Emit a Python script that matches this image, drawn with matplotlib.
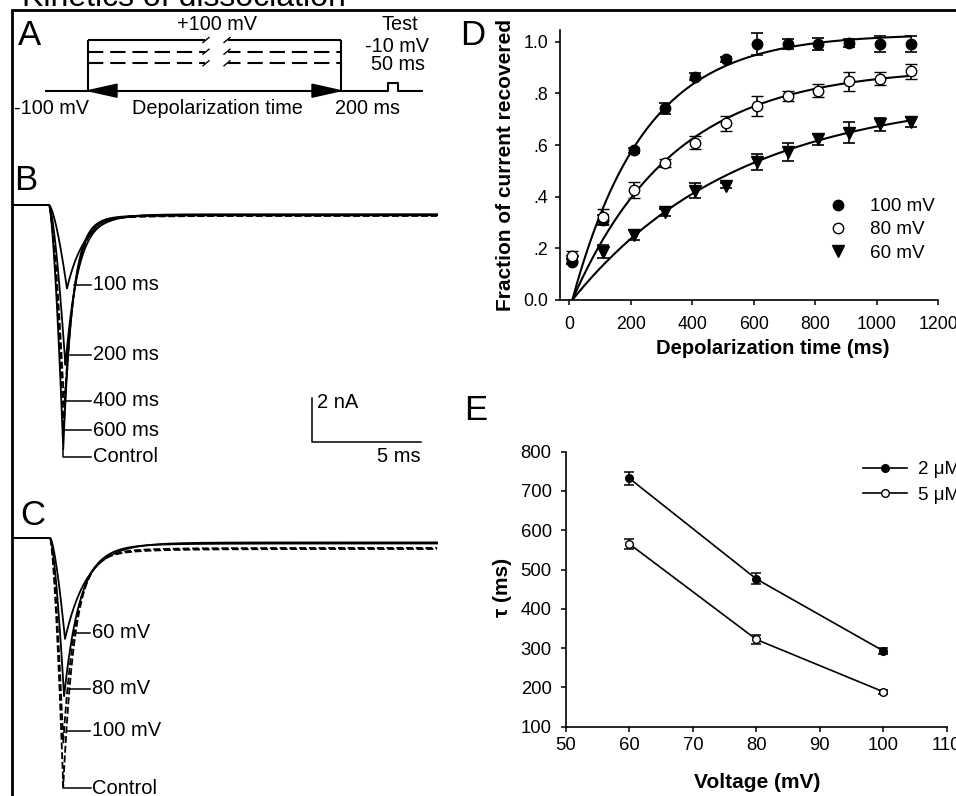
import numpy as np
import matplotlib
matplotlib.use('Agg')
import matplotlib.pyplot as plt
from matplotlib.lines import Line2D
from matplotlib.patches import Polygon

plt.rcParams['font.family'] = ['Liberation Sans', 'DejaVu Sans']
plt.rcParams['lines.scale_dashes'] = False

W, H = 956, 796

# ---------------- DATA ----------------
# Panel B: test-pulse currents after various depolarization times
b_labels = ['100 ms', '200 ms', '400 ms', '600 ms', 'Control']
b_peak_nA = [3.8, 7.3, 9.2, 10.2, 11.1]
b_steady_nA = [0.42, 0.45, 0.47, 0.50, 0.45]
b_peak_ms = [2.52, 2.45, 2.40, 2.37, 2.35]
b_tau_ms = [0.80, 0.58, 0.48, 0.45, 0.43]
b_dashed = [False, False, True, True, False]
b_label_y = [285, 355, 401, 430, 457]

# Panel C: test-pulse currents after depolarization to various voltages
c_labels = ['60 mV', '80 mV', '100 mV', 'Control']
c_peak_nA = [4.6, 7.2, 9.3, 11.3]
c_steady_nA = [0.20, 0.25, 0.45, 0.50]
c_peak_ms = [2.43, 2.39, 2.35, 2.35]
c_tau_ms = [1.0, 0.72, 0.58, 0.52]
c_dashed = [False, False, True, True]
c_label_y = [633, 689, 731, 788]

# Panel D: fraction of current recovered
d_time = [10, 110, 210, 310, 410, 510, 610, 710, 810, 910, 1010, 1110]
d_100 = [0.148, 0.31, 0.58, 0.742, 0.865, 0.932, 0.991, 0.991, 0.991, 0.994, 0.991, 0.991]
d_100_err = [0.01, 0.02, 0.01, 0.022, 0.015, 0.01, 0.042, 0.02, 0.025, 0.015, 0.03, 0.03]
d_80 = [0.17, 0.323, 0.426, 0.529, 0.609, 0.684, 0.751, 0.79, 0.81, 0.846, 0.857, 0.885]
d_80_err = [0.02, 0.03, 0.03, 0.015, 0.025, 0.03, 0.04, 0.02, 0.025, 0.035, 0.025, 0.03]
d_60 = [0.15, 0.187, 0.252, 0.339, 0.423, 0.443, 0.535, 0.574, 0.622, 0.648, 0.681, 0.69]
d_60_err = [0.01, 0.025, 0.02, 0.015, 0.03, 0.01, 0.03, 0.035, 0.02, 0.04, 0.025, 0.02]
# single-exponential fit parameters: (amplitude, tau ms)
fit_100 = (1.03, 235.0)
fit_80 = (0.90, 330.0)
fit_60 = (0.80, 541.0)
fit_start_ms = 10
fit_end_ms = 1110
d_legend = ['100 mV', '80 mV', '60 mV']
d_xticks = [0, 200, 400, 600, 800, 1000, 1200]
d_yticks = [0.0, 0.2, 0.4, 0.6, 0.8, 1.0]
d_yticklabels = ['0.0', '.2', '.4', '.6', '.8', '1.0']

# Panel E: time constant vs voltage
e_voltage = [60, 80, 100]
e_tau_2uM = [732, 476, 293]
e_err_2uM = [17, 14, 8]
e_tau_5uM = [565, 322, 189]
e_err_5uM = [13, 12, 5]
e_legend = ['2 \u03bcM', '5 \u03bcM']
e_xticks = [50, 60, 70, 80, 90, 100, 110]
e_yticks = [100, 200, 300, 400, 500, 600, 700, 800]

# ---------------- FIGURE ----------------
fig = plt.figure(figsize=(W / 100, H / 100), dpi=100)


def ax_px(l, t, r, b, **kw):
    return fig.add_axes([l / W, 1 - b / H, (r - l) / W, (b - t) / H], **kw)


def to_axes(ax, px, py):
    inv = ax.transAxes.inverted()
    return inv.transform(fig.transFigure.transform((px / W, 1 - py / H)))


def trace(t, t0, tpk, peak, ss, tau_f, tau_s=1.6, frac_s=0.03):
    y = np.zeros_like(t)
    m = (t >= t0) & (t < tpk)
    y[m] = -peak * ((t[m] - t0) / (tpk - t0)) ** 1.5
    m = t >= tpk
    dt = t[m] - tpk
    y[m] = -ss - (peak - ss) * ((1 - frac_s) * np.exp(-dt / tau_f) + frac_s * np.exp(-dt / tau_s))
    return y


t = np.linspace(0, 19.5, 4000)

# ---- Panel B ----
axB = ax_px(12, 185, 448, 470)
axB.set_xlim(0, 20)
axB.set_ylim(-(470 - 205) / 22, (205 - 185) / 22)
axB.axis('off')
for pk, ss, tp, tau, dash in zip(b_peak_nA, b_steady_nA, b_peak_ms, b_tau_ms, b_dashed):
    axB.plot(t, trace(t, 1.70, tp, pk, ss, tau), color='black', lw=1.3,
             ls=(0, (5, 2)) if dash else '-')
# scale bar: 2 nA, 5 ms
sx, sy = (312 - 12) / 21.8, -(442 - 205) / 22
axB.plot([sx, sx, sx + 5], [sy + 2, sy, sy], color='black', lw=1.1, clip_on=False)

# ---- Panel C ----
axC = ax_px(12, 515, 448, 796)
axC.set_xlim(0, 20)
axC.set_ylim(-(796 - 538) / 22, (538 - 515) / 22)
axC.axis('off')
for pk, ss, tp, tau, dash in zip(c_peak_nA, c_steady_nA, c_peak_ms, c_tau_ms, c_dashed):
    axC.plot(t, trace(t, 1.75, tp, pk, ss, tau, tau_s=2.2, frac_s=0.04), color='black', lw=1.3,
             ls=(0, (5, 2)) if dash else '-')

# ---- Panel D ----
axD = ax_px(560, 300 - 1.045 * 258.3, 938.3, 300)
axD.set_xlim(-30, 1200)
axD.set_ylim(0, 1.045)
tf = np.linspace(fit_start_ms, fit_end_ms, 400)
for (A, tau) in (fit_100, fit_80, fit_60):
    axD.plot(tf, A * (1 - np.exp(-(tf - fit_start_ms) / tau)), color='black', lw=1.5, zorder=2)
ekw = dict(ecolor='black', elinewidth=1.2, capsize=4.5, capthick=1.2, ls='none', zorder=3)
axD.errorbar(d_time, d_60, yerr=d_60_err, fmt='v', ms=8, mfc='black', mec='black', **ekw)
axD.errorbar(d_time, d_100, yerr=d_100_err, fmt='o', ms=7.5, mfc='black', mec='black', **ekw)
axD.errorbar(d_time, d_80, yerr=d_80_err, fmt='o', ms=7.5, mfc='white', mec='black', mew=1.0, **ekw)
axD.set_xticks(d_xticks)
axD.set_yticks(d_yticks)
axD.set_yticklabels(d_yticklabels)
for s in ('top', 'right'):
    axD.spines[s].set_visible(False)
for s in ('left', 'bottom'):
    axD.spines[s].set_linewidth(1.2)
axD.tick_params(axis='both', direction='out', length=3.6, width=1.1, labelsize=12.8)
axD.tick_params(axis='x', pad=8)
axD.tick_params(axis='y', pad=4.8)
axD.set_xlabel('Depolarization time (ms)', fontsize=14.5, fontweight='bold')
axD.set_ylabel('Fraction of current recovered', fontsize=15, fontweight='bold')
axD.xaxis.set_label_coords(*to_axes(axD, 773, 348))
axD.xaxis.label.set_va('center')
axD.yaxis.set_label_coords(*to_axes(axD, 505, 165))
axD.yaxis.label.set_va('center')
hD = [Line2D([], [], ls='none', marker='o', ms=7.5, mfc='black', mec='black'),
      Line2D([], [], ls='none', marker='o', ms=7.5, mfc='white', mec='black'),
      Line2D([], [], ls='none', marker='v', ms=8, mfc='black', mec='black')]
axD.legend(hD, d_legend, loc='upper left', bbox_to_anchor=(828.5 / W, 1 - 198 / H),
           bbox_transform=fig.transFigure, frameon=False, fontsize=13.6, borderpad=0,
           borderaxespad=0, handlelength=1.0, handletextpad=1.2, labelspacing=0.32,
           numpoints=1)

# ---- Panel E ----
axE = ax_px(566, 451.7, 946.7, 726.7)
axE.set_xlim(50, 110)
axE.set_ylim(100, 800)
ekwE = dict(ecolor='black', elinewidth=1.1, capsize=3.6, capthick=1.1, color='black', lw=1.2)
axE.errorbar(e_voltage, e_tau_2uM, yerr=e_err_2uM, fmt='-o', ms=5.5, mfc='black', mec='black', **ekwE)
axE.errorbar(e_voltage, e_tau_5uM, yerr=e_err_5uM, fmt='-o', ms=5.5, mfc='white', mec='black', **ekwE)
axE.set_xticks(e_xticks)
axE.set_yticks(e_yticks)
for s in ('top', 'right'):
    axE.spines[s].set_visible(False)
for s in ('left', 'bottom'):
    axE.spines[s].set_linewidth(1.2)
axE.tick_params(axis='both', direction='out', length=3.6, width=1.1, labelsize=13.3)
axE.tick_params(axis='x', pad=3.6)
axE.tick_params(axis='y', pad=6.7)
axE.set_xlabel('Voltage (mV)', fontsize=15, fontweight='bold')
axE.set_ylabel('\u03c4 (ms)', fontsize=15, fontweight='bold')
axE.xaxis.set_label_coords(*to_axes(axE, 757, 783))
axE.xaxis.label.set_va('center')
axE.yaxis.set_label_coords(*to_axes(axE, 503, 587))
axE.yaxis.label.set_va('center')
hE = [Line2D([], [], color='black', lw=1.2, marker='o', ms=5.5, mfc='black', mec='black'),
      Line2D([], [], color='black', lw=1.2, marker='o', ms=5.5, mfc='white', mec='black')]
axE.legend(hE, e_legend, loc='upper left', bbox_to_anchor=(863 / W, 1 - 461 / H),
           bbox_transform=fig.transFigure, frameon=False, fontsize=13.5, borderpad=0,
           borderaxespad=0, handlelength=2.35, handletextpad=0.6, labelspacing=0.44,
           numpoints=1)

# ---- Overlay (pixel coordinates) ----
ov = fig.add_axes([0, 0, 1, 1], facecolor='none', zorder=10)
ov.set_xlim(0, W)
ov.set_ylim(H, 0)
ov.axis('off')
K = dict(color='black', lw=1.5, solid_capstyle='butt')

# frame
ov.plot([12.5, 12.5, W], [H, 9.5, 9.5], color='black', lw=2.0, solid_joinstyle='miter')
ov.text(22, 6, 'Kinetics of dissociation', fontsize=23, ha='left', va='baseline')

# panel letters
for lab, x, y in (('A', 18, 45), ('B', 14, 190), ('C', 20, 525), ('D', 460, 45), ('E', 464, 420)):
    ov.text(x, y, lab, fontsize=25, ha='left', va='baseline')

# Panel A protocol schematic
yb, yt, yd1, yd2 = 90.7, 40, 51.7, 63.3
xa, xb = 88, 341
ov.plot([45, xa, xa], [yb, yb, yt], **K)
ov.plot([xa, 205], [yt, yt], **K)
ov.plot([228, xb], [yt, yt], **K)
ov.plot([xb, xb, 388, 388, 398, 398, 423], [yt, yb, yb, 82.7, 82.7, yb, yb], **K)
for yy in (yd1, yd2):
    ov.plot([xa, 205], [yy, yy], color='black', lw=1.5, ls=(0, (11, 5)))
    ov.plot([228, xb], [yy, yy], color='black', lw=1.5, ls=(2, (11, 5)))
for yy in (yt, yd1, yd2):
    ov.plot([203, 209], [yy + 2.5, yy - 2.5], color='black', lw=1.0)
    ov.plot([224, 230], [yy + 2.5, yy - 2.5], color='black', lw=1.0)
ov.plot([xa, xb], [yb, yb], **K)
ov.add_patch(Polygon([[xa, yb], [117, yb - 6.5], [117, yb + 6.5]], closed=True, color='black'))
ov.add_patch(Polygon([[xb, yb], [312, yb - 6.5], [312, yb + 6.5]], closed=True, color='black'))
fa = 14.3
ov.text(217, 25, '+100 mV', fontsize=fa, ha='center', va='center')
ov.text(400, 25, 'Test', fontsize=fa, ha='center', va='center')
ov.text(397, 46, '-10 mV', fontsize=fa, ha='center', va='center')
ov.text(398, 65, '50 ms', fontsize=fa, ha='center', va='center')
ov.text(14, 108, '-100 mV', fontsize=fa, ha='left', va='center')
ov.text(217, 108, 'Depolarization time', fontsize=fa, ha='center', va='center')
ov.text(335, 108, '200 ms', fontsize=fa, ha='left', va='center')

# Panel B labels with leader lines
b_lead_x = [74, 70, 65, 65, 63]
for lab, y, lx in zip(b_labels, b_label_y, b_lead_x):
    if lab == 'Control':
        ov.plot([lx, lx, 91], [449, y, y], color='black', lw=1.1)
    else:
        ov.plot([lx, 91], [y, y], color='black', lw=1.1)
    ov.text(93, y, lab, fontsize=14.5, ha='left', va='center')
ov.text(317, 403, '2 nA', fontsize=14.5, ha='left', va='center')
ov.text(421, 457, '5 ms', fontsize=14.5, ha='right', va='center')

# Panel C labels
c_lead_x = [74, 69, 67, 63]
for lab, y, lx in zip(c_labels, c_label_y, c_lead_x):
    if lab == 'Control':
        ov.plot([lx, lx, 91], [782, y, y], color='black', lw=1.1)
    else:
        ov.plot([lx, 90], [y, y], color='black', lw=1.1)
    ov.text(92, y, lab, fontsize=14.5, ha='left', va='center')

fig.savefig('out.png', dpi=100)
